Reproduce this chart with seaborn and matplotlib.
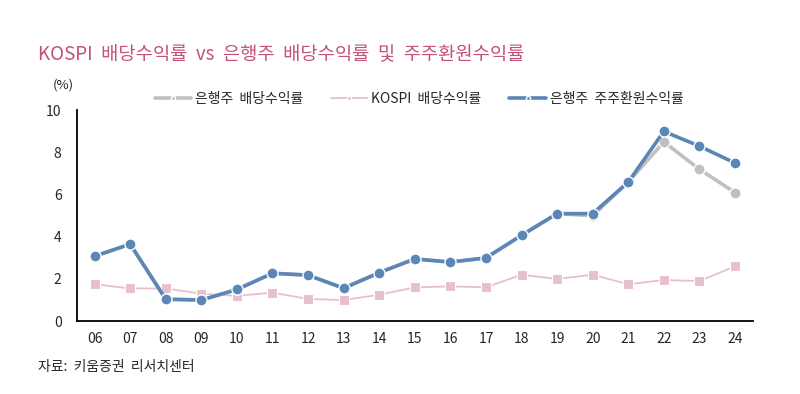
import pandas as pd
import matplotlib.pyplot as plt
import seaborn as sns
from matplotlib.lines import Line2D

sns.set_style('white')
plt.rcParams['font.family'] = ['Noto Sans CJK KR', 'DejaVu Sans']

# Data
years = ['06', '07', '08', '09', '10', '11', '12', '13', '14', '15',
         '16', '17', '18', '19', '20', '21', '22', '23', '24']
bank_dividend = [3.08, 3.65, 1.04, 1.0, 1.5, 2.27, 2.18, 1.56, 2.3, 2.95,
                 2.8, 3.0, 4.07, 5.1, 5.0, 6.6, 8.5, 7.2, 6.1]
kospi_dividend = [1.75, 1.55, 1.55, 1.3, 1.2, 1.35, 1.05, 1.0, 1.25, 1.6,
                  1.65, 1.6, 2.2, 2.0, 2.2, 1.75, 1.95, 1.9, 2.6]
bank_return = [3.08, 3.65, 1.04, 1.0, 1.5, 2.27, 2.18, 1.56, 2.3, 2.95,
               2.8, 3.0, 4.07, 5.1, 5.1, 6.6, 9.0, 8.3, 7.5]

labels = ['은행주  배당수익률', 'KOSPI  배당수익률', '은행주  주주환원수익률']
blue = '#5b86b5'
gray = '#c0c0c0'
pink = '#e8bfcd'

df = pd.DataFrame({'idx': range(len(years)), 'bank': bank_dividend,
                   'kospi': kospi_dividend, 'ret': bank_return})

fig = plt.figure(figsize=(8, 3.94), dpi=100)
ax = fig.add_axes([0.096, 0.185, 0.845, 0.535])

sns.lineplot(data=df, x='idx', y='kospi', color=pink, lw=1.3, marker='s',
             markersize=7, markeredgecolor='white', markeredgewidth=0.8, ax=ax)
sns.lineplot(data=df, x='idx', y='bank', color=gray, lw=2.6, marker='o',
             markersize=8, markeredgecolor='white', markeredgewidth=1, ax=ax)
sns.lineplot(data=df, x='idx', y='ret', color=blue, lw=2.6, marker='o',
             markersize=8, markeredgecolor='white', markeredgewidth=1, ax=ax)

ax.set_xlim(-0.5, len(years) - 0.5)
ax.set_ylim(0, 10)
ax.set_yticks([0, 2, 4, 6, 8, 10])
ax.set_xticks(range(len(years)))
ax.set_xticklabels(years)
ax.set_xticks([i - 0.5 for i in range(len(years) + 1)], minor=True)
ax.tick_params(axis='x', which='major', length=0, labelsize=10, pad=8)
ax.tick_params(axis='x', which='minor', length=5, width=1.2, direction='out', color='black')
ax.tick_params(axis='y', length=5, width=1.2, direction='out', color='black', labelsize=10, pad=6)
ax.set_xlabel('')
ax.set_ylabel('')
for s in ['top', 'right']:
    ax.spines[s].set_visible(False)
for s in ['left', 'bottom']:
    ax.spines[s].set_color('black')
    ax.spines[s].set_linewidth(1.3)

handles = [
    Line2D([], [], color=gray, lw=2.6, marker='o', markersize=3, markeredgecolor='white'),
    Line2D([], [], color=pink, lw=1.3, marker='s', markersize=3, markeredgecolor='white'),
    Line2D([], [], color=blue, lw=2.6, marker='o', markersize=3, markeredgecolor='white'),
]
fig.legend(handles, labels, loc='center', bbox_to_anchor=(0.524, 0.748), ncol=3,
           frameon=False, fontsize=10, handlelength=2.6, columnspacing=2.0, handletextpad=0.3)

fig.text(0.048, 0.86, 'KOSPI  배당수익률  vs  은행주  배당수익률  및  주주환원수익률',
         color='#c4507c', fontsize=13.5, va='center')
fig.text(0.066, 0.783, '(%)', fontsize=9.5, va='center')
fig.text(0.048, 0.068, '자료:  키움증권  리서치센터', fontsize=10, va='center')

fig.savefig('out.png', dpi=100)
